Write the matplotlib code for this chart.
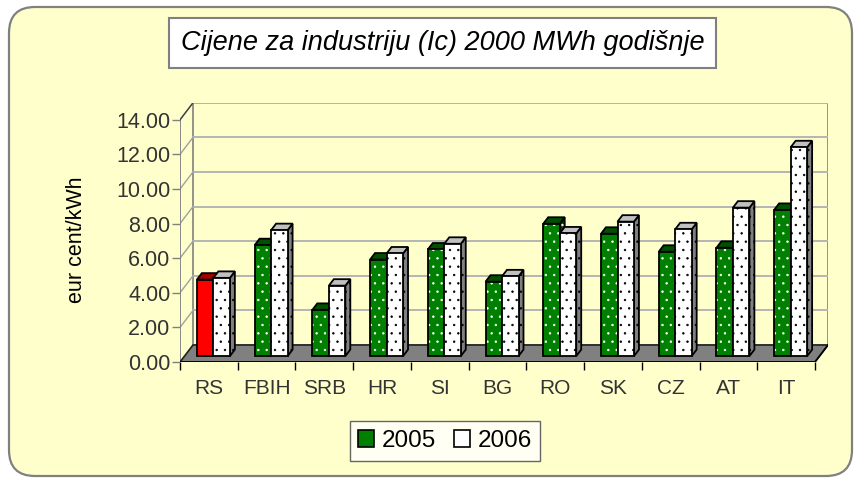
import numpy as np
import matplotlib
matplotlib.use("Agg")
import matplotlib.pyplot as plt
from matplotlib.patches import Polygon, Rectangle, FancyBboxPatch, Patch

plt.rcParams['font.family'] = ['Liberation Sans', 'DejaVu Sans']
plt.rcParams['hatch.linewidth'] = 0.5

# data
categories = ['RS', 'FBIH', 'SRB', 'HR', 'SI', 'BG', 'RO', 'SK', 'CZ', 'AT', 'IT']
values_2005 = [4.42, 6.41, 2.67, 5.58, 6.16, 4.30, 7.65, 7.07, 6.03, 6.26, 8.45]
values_2006 = [4.52, 7.28, 4.07, 5.93, 6.49, 4.61, 7.09, 7.77, 7.33, 8.58, 12.07]
series_names = ['2005', '2006']
y_ticks = [0, 2, 4, 6, 8, 10, 12, 14]
title = 'Cijene za industriju (Ic) 2000 MWh godišnje'
y_label = 'eur cent/kWh'

W, H = 860, 482
fig = plt.figure(figsize=(W / 100, H / 100), dpi=100)

# background axes in pixel units
bg = fig.add_axes([0, 0, 1, 1])
bg.set_xlim(0, W)
bg.set_ylim(H, 0)
bg.axis('off')
bg.add_patch(FancyBboxPatch((9, 7), 843, 469, boxstyle="round,pad=0,rounding_size=26",
                            facecolor='#FFFFCC', edgecolor='#808080', lw=1.6))
bg.add_patch(Rectangle((169, 18), 547, 50, facecolor='white', edgecolor='#808080', lw=1.5))
bg.text(442.5, 43, title, fontsize=19.5, style='italic', ha='center', va='center')
bg.text(76, 240, y_label, fontsize=15.5, rotation=90, ha='center', va='center')

# 3d-ish geometry (pixels)
front_left, front_right, front_bottom = 180, 815, 362
px_per_val = 17.3
depth_px = (13, 17)
ncat = len(categories)
ux = (front_right - front_left) / ncat
dx = depth_px[0] / ux
dy = depth_px[1] / px_per_val
ymax = y_ticks[-1]

top_px = front_bottom - (ymax + dy) * px_per_val
right_px = front_left + (ncat + dx) * ux
ax = fig.add_axes([front_left / W, (H - front_bottom) / H,
                   (right_px - front_left) / W, (front_bottom - top_px) / H])
ax.set_xlim(0, ncat + dx)
ax.set_ylim(0, ymax + dy)
ax.patch.set_visible(False)
for s in ax.spines.values():
    s.set_visible(False)

# walls
ax.add_patch(Polygon([(0, 0), (0, ymax), (dx, ymax + dy), (dx, dy)], closed=True,
                     facecolor='#FFFFCC', edgecolor='none', zorder=0))
ax.add_patch(Rectangle((dx, dy), ncat, ymax, facecolor='#FFFFCC', edgecolor='#808080',
                       lw=1.2, zorder=0))
for v in y_ticks[1:]:
    ax.plot([dx, ncat + dx], [v + dy, v + dy], color='#B4B4B4', lw=1.4, zorder=1)
    ax.plot([0, dx], [v, v + dy], color='#A0A0A0', lw=1.0, zorder=1)
ax.plot([0, 0], [0, ymax], color='#808080', lw=1.3, zorder=2)
ax.plot([0, dx], [ymax, ymax + dy], color='#404040', lw=1.0, zorder=2)

# floor
ax.add_patch(Polygon([(0, 0), (ncat, 0), (ncat + dx, dy), (dx, dy)], closed=True,
                     facecolor='#808080', edgecolor='#202020', lw=1.2, zorder=2))


def face(pts, fc, hatch=None, hc=None, z=3):
    if hatch:
        ax.add_patch(Polygon(pts, closed=True, facecolor=fc, edgecolor=hc, hatch=hatch,
                             lw=0, zorder=z))
    else:
        ax.add_patch(Polygon(pts, closed=True, facecolor=fc, edgecolor='none', zorder=z))
    ax.add_patch(Polygon(pts, closed=True, fill=False, edgecolor='black', lw=1.3,
                         zorder=z, joinstyle='miter'))


# bars
f = 0.35          # front face depth position
d = 0.38          # bar depth
bw = 16.5 / ux
gap = (1 - 2 * bw) / 2
styles = [
    # front, top, side, hatch colour
    ('#008000', '#005000', '#004000', 'white'),
    ('#FFFFFF', '#C0C0C0', '#808080', 'black'),
]
for i in range(ncat):
    for s, vals in enumerate([values_2005, values_2006]):
        v = vals[i]
        x0 = i + gap + s * bw + f * dx
        y0 = f * dy
        ddx, ddy = d * dx, d * dy
        fc, tc, sc, hc = styles[s]
        hatch = '..'
        if i == 0 and s == 0:
            fc, tc, sc, hatch = '#FF0000', '#A00000', '#800000', None
        side = [(x0 + bw, y0), (x0 + bw + ddx, y0 + ddy), (x0 + bw + ddx, y0 + v + ddy), (x0 + bw, y0 + v)]
        top = [(x0, y0 + v), (x0 + bw, y0 + v), (x0 + bw + ddx, y0 + v + ddy), (x0 + ddx, y0 + v + ddy)]
        front = [(x0, y0), (x0 + bw, y0), (x0 + bw, y0 + v), (x0, y0 + v)]
        face(side, sc, hatch, hc, z=3 + s)
        face(top, tc, None, None, z=3 + s)
        face(front, fc, hatch, hc, z=3 + s)

# axes lines and ticks
ax.plot([0, ncat], [0, 0], color='black', lw=1.3, zorder=6)
ax.plot([ncat, ncat + dx], [0, dy], color='black', lw=1.2, zorder=6)
ax.set_yticks(y_ticks)
ax.set_yticklabels(['%.2f' % t for t in y_ticks])
ax.tick_params(axis='y', length=6, width=1.0, color='#808080', labelsize=15.5,
               labelcolor='#333333', pad=1)
ax.set_xticks(np.arange(ncat) + 0.5)
ax.set_xticklabels(categories)
ax.set_xticks(np.arange(ncat + 1), minor=True)
ax.tick_params(axis='x', which='major', length=0, labelsize=15, labelcolor='#333333', pad=12)
ax.tick_params(axis='x', which='minor', length=6, width=1.0, color='black')

# legend
handles = [Patch(facecolor='#008000', edgecolor='black', lw=1.2, label=series_names[0]),
           Patch(facecolor='white', edgecolor='black', lw=1.2, label=series_names[1])]
leg = fig.legend(handles=handles, loc='center', bbox_to_anchor=(445 / W, 1 - 441 / H),
                 ncol=2, fontsize=17.5, frameon=True, fancybox=False, handlelength=0.66,
                 handleheight=0.66, handletextpad=0.33, columnspacing=0.7,
                 borderpad=0.35, borderaxespad=0, labelcolor='black')
leg.get_frame().set_edgecolor('#404040')
leg.get_frame().set_linewidth(1.0)

fig.savefig('out.png', dpi=100)
